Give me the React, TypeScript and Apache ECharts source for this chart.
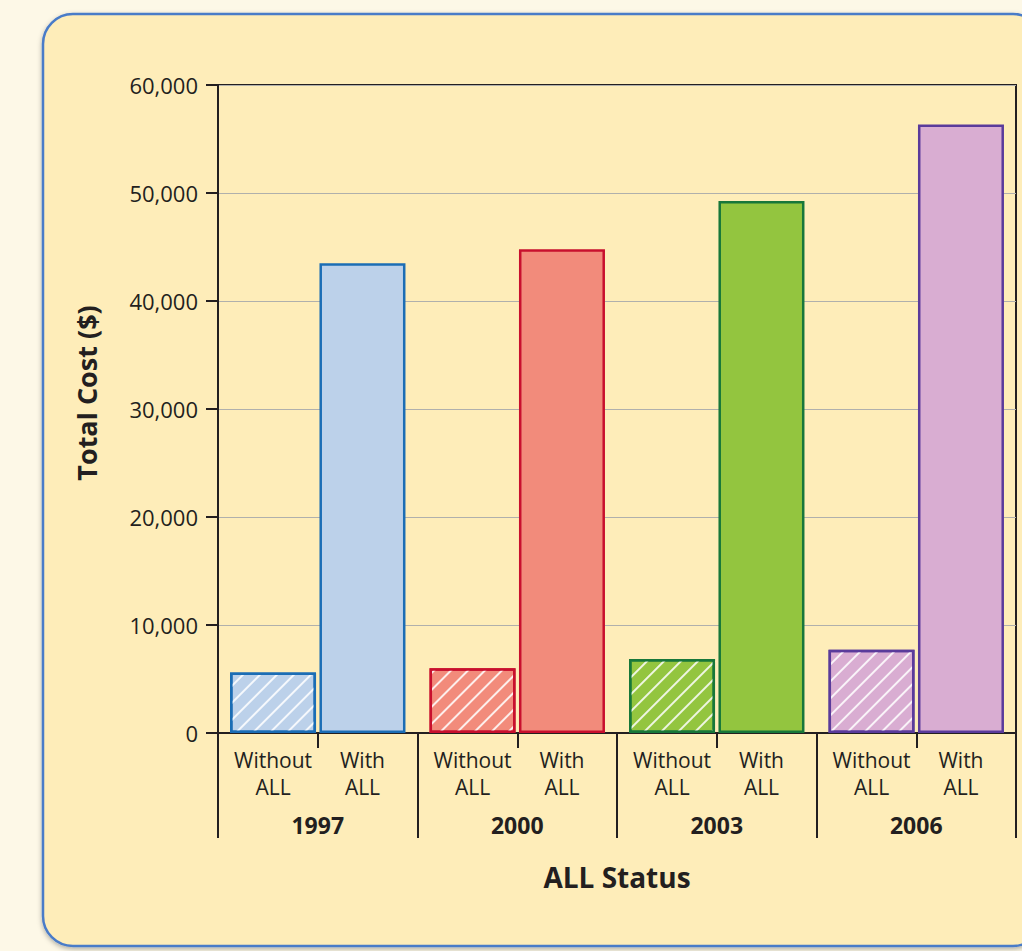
import React, { useEffect, useRef } from "react";
import * as echarts from "echarts";

const years = ["1997", "2000", "2003", "2006"];
const withoutALL = [5600, 6000, 6850, 7700];
const withALL = [43500, 44800, 49250, 56350];
const subLabels = ["Without\nALL", "With\nALL"];
const fillColors = ["#BCD1EA", "#F28B7B", "#93C53F", "#D9ADD2"];
const borderColors = ["#1B6DB5", "#C8102E", "#17773A", "#5A3B9B"];
const yTicks = [0, 10000, 20000, 30000, 40000, 50000, 60000];

const TEXT = "#231F20";
const FONT = "'Open Sans', 'Noto Sans', sans-serif";

export default function App() {
  const ref = useRef<HTMLDivElement>(null);
  useEffect(() => {
    if (!ref.current) return;
    const chart = echarts.init(ref.current, null, { renderer: "svg" });
    const fmt = (v: number) => v.toLocaleString("en-US");
    const mkData = (vals: number[], hatched: boolean) =>
      vals.map((v, i) => ({
        value: v,
        itemStyle: {
          color: fillColors[i],
          borderColor: borderColors[i],
          borderWidth: 2.5,
          decal: hatched
            ? {
                symbol: "rect",
                symbolSize: 1,
                color: "rgba(255,255,255,0.85)",
                dashArrayX: [1, 0],
                dashArrayY: [1.5, 10],
                rotation: -Math.PI / 4,
              }
            : undefined,
        },
      }));

    chart.setOption({
      animation: false,
      backgroundColor: "#FDF8E7",
      textStyle: { fontFamily: FONT, color: TEXT },
      graphic: {
        elements: [
          {
            type: "rect",
            z: -100,
            shape: { x: 43, y: 14, width: 1000, height: 932, r: 30 },
            style: {
              fill: "#FEEDB9",
              stroke: "#4A7BC8",
              lineWidth: 2.5,
              shadowBlur: 5,
              shadowOffsetY: 2,
              shadowColor: "rgba(0,0,0,0.3)",
            },
          },
        ],
      },
      grid: {
        left: 218,
        right: 6,
        top: 85,
        bottom: 218,
        show: true,
        borderColor: TEXT,
        borderWidth: 2,
        backgroundColor: "transparent",
      },
      xAxis: [
        {
          type: "category",
          data: years,
          position: "bottom",
          axisLine: { show: true, lineStyle: { color: TEXT, width: 2 } },
          axisTick: { show: true, alignWithLabel: false, length: 105, lineStyle: { color: TEXT, width: 2 } },
          axisLabel: {
            show: true,
            margin: 80,
            fontSize: 23,
            fontWeight: "bold",
            color: TEXT,
            fontFamily: FONT,
          },
          name: "ALL Status",
          nameLocation: "middle",
          nameGap: 130,
          nameTextStyle: { fontSize: 28, fontWeight: "bold", color: TEXT, fontFamily: FONT },
        },
        {
          type: "category",
          data: years,
          position: "bottom",
          axisLine: { show: false },
          axisTick: { show: true, alignWithLabel: true, length: 15, lineStyle: { color: TEXT, width: 2 } },
          axisLabel: { show: false },
          splitLine: { show: false },
        },
      ],
      yAxis: {
        type: "value",
        min: 0,
        max: 60000,
        interval: 10000,
        axisLine: { show: true, lineStyle: { color: TEXT, width: 2 } },
        axisTick: { show: true, length: 12, lineStyle: { color: TEXT, width: 2 } },
        axisLabel: {
          margin: 20,
          fontSize: 22,
          color: TEXT,
          fontFamily: FONT,
          formatter: (v: number) => (yTicks.includes(v) ? fmt(v) : ""),
        },
        splitLine: { show: true, lineStyle: { color: "#B0B0AC", width: 1 } },
        name: "Total Cost ($)",
        nameLocation: "middle",
        nameGap: 118,
        nameTextStyle: {
          fontSize: 27,
          fontWeight: "bold",
          color: TEXT,
          fontFamily: FONT,
          padding: [0, 0, 0, 32],
        },
      },
      series: [
        {
          type: "bar",
          name: "Without ALL",
          xAxisIndex: 0,
          barWidth: 86,
          barGap: "4%",
          data: mkData(withoutALL, true),
          label: {
            show: true,
            position: "bottom",
            distance: 13,
            formatter: () => subLabels[0],
            fontSize: 21,
            lineHeight: 27,
            color: TEXT,
            fontFamily: FONT,
          },
        },
        {
          type: "bar",
          name: "With ALL",
          xAxisIndex: 0,
          barWidth: 86,
          barGap: "4%",
          data: mkData(withALL, false),
          label: {
            show: true,
            position: "bottom",
            distance: 13,
            formatter: () => subLabels[1],
            fontSize: 21,
            lineHeight: 27,
            color: TEXT,
            fontFamily: FONT,
          },
        },
      ],
    });
    return () => chart.dispose();
  }, []);
  return (
    <div
      ref={ref}
      style={{ position: "absolute", left: 0, top: 0, width: 1022, height: 951 }}
    />
  );
}
